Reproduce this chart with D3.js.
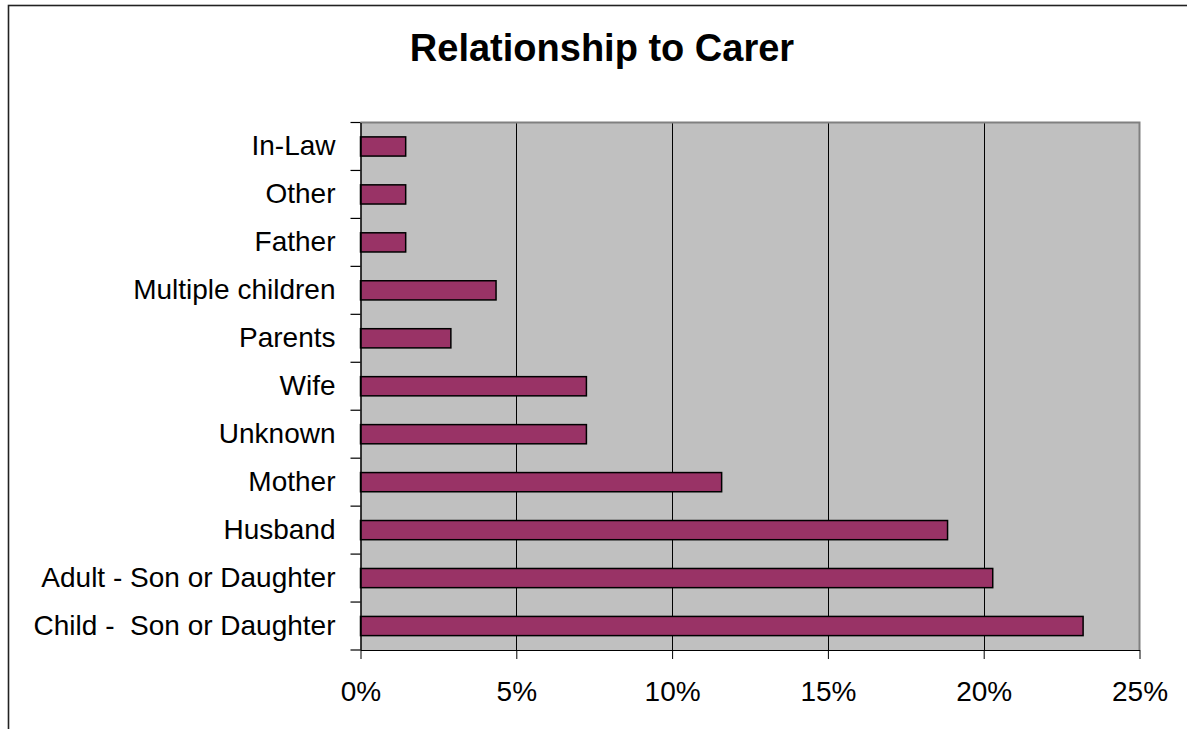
<!DOCTYPE html>
<html>
<head>
<meta charset="utf-8">
<script src="https://cdn.jsdelivr.net/npm/d3@7"></script>
<style>
  html, body { margin: 0; padding: 0; background: #fff; }
  svg { display: block; }
  text { font-family: "Liberation Sans", Arial, sans-serif; fill: #000; white-space: pre; }
</style>
</head>
<body>
<svg id="chart" width="1187" height="729"></svg>
<script>
const title = "Relationship to Carer";
const categories = ["In-Law", "Other", "Father", "Multiple children", "Parents", "Wife",
  "Unknown", "Mother", "Husband", "Adult - Son or Daughter", "Child -  Son or Daughter"];
const values = [1.45, 1.45, 1.45, 4.35, 2.9, 7.25, 7.25, 11.59, 18.84, 20.29, 23.19];
const xTicks = [0, 5, 10, 15, 20, 25];

const svg = d3.select("#chart");
const plot = { left: 360.5, right: 1139.5, top: 122.5, bottom: 650 };

// outer chart border
svg.append("rect")
  .attr("x", 8.5).attr("y", 5.5).attr("width", 1300).attr("height", 900)
  .attr("fill", "none").attr("stroke", "#222").attr("stroke-width", 1.6);

svg.append("text")
  .attr("x", 602).attr("y", 61)
  .attr("text-anchor", "middle")
  .style("font-size", "38px").style("font-weight", "bold")
  .text(title);

const x = d3.scaleLinear().domain([0, 25]).range([plot.left, plot.right]);
const y = d3.scaleBand().domain(categories).range([plot.top, plot.bottom])
  .paddingInner(0.6).paddingOuter(0.3);

// plot background
svg.append("rect")
  .attr("x", plot.left).attr("y", plot.top)
  .attr("width", plot.right - plot.left).attr("height", plot.bottom - plot.top)
  .attr("fill", "#c0c0c0");

// gridlines
svg.append("g").selectAll("line")
  .data(xTicks.filter(t => t > 0 && t < 25))
  .join("line")
  .attr("x1", d => Math.round(x(d)) + 0.5).attr("x2", d => Math.round(x(d)) + 0.5)
  .attr("y1", plot.top).attr("y2", plot.bottom)
  .attr("stroke", "#000").attr("stroke-width", 1);

// top & right plot border (grey)
svg.append("path")
  .attr("d", `M${plot.left},${plot.top}H${plot.right}V${plot.bottom}`)
  .attr("fill", "none").attr("stroke", "#808080").attr("stroke-width", 2);

// bars
svg.append("g").selectAll("rect")
  .data(categories.map((c, i) => ({ c, v: values[i] })))
  .join("rect")
  .attr("x", x(0))
  .attr("y", d => y(d.c))
  .attr("width", d => x(d.v) - x(0))
  .attr("height", y.bandwidth())
  .attr("fill", "#993366")
  .attr("stroke", "#000").attr("stroke-width", 1.5);

// bottom axis
const xAxis = d3.axisBottom(x).tickValues(xTicks).tickFormat(d => d + "%")
  .tickSizeInner(9).tickSizeOuter(0).tickPadding(22);
const gx = svg.append("g").attr("transform", `translate(0,${plot.bottom})`).call(xAxis);
gx.select(".domain").attr("stroke", "#000").attr("stroke-width", 1.2);
gx.selectAll(".tick line").attr("stroke", "#000");
gx.selectAll(".tick text").style("font-size", "28px").attr("fill", "#000");

// left axis
const yAxis = d3.axisLeft(y).tickSize(0).tickPadding(25);
const gy = svg.append("g").attr("transform", `translate(${plot.left},0)`).call(yAxis);
gy.select(".domain").attr("stroke", "#000").attr("stroke-width", 1.5);
gy.selectAll(".tick text").style("font-size", "28px").attr("fill", "#000")
  .attr("xml:space", "preserve");

// category boundary ticks
const bounds = d3.range(categories.length + 1).map(i => plot.top + i * (plot.bottom - plot.top) / categories.length);
svg.append("g").selectAll("line")
  .data(bounds)
  .join("line")
  .attr("x1", plot.left - 10).attr("x2", plot.left)
  .attr("y1", d => d).attr("y2", d => d)
  .attr("stroke", "#000").attr("stroke-width", 1.2);
</script>
</body>
</html>
